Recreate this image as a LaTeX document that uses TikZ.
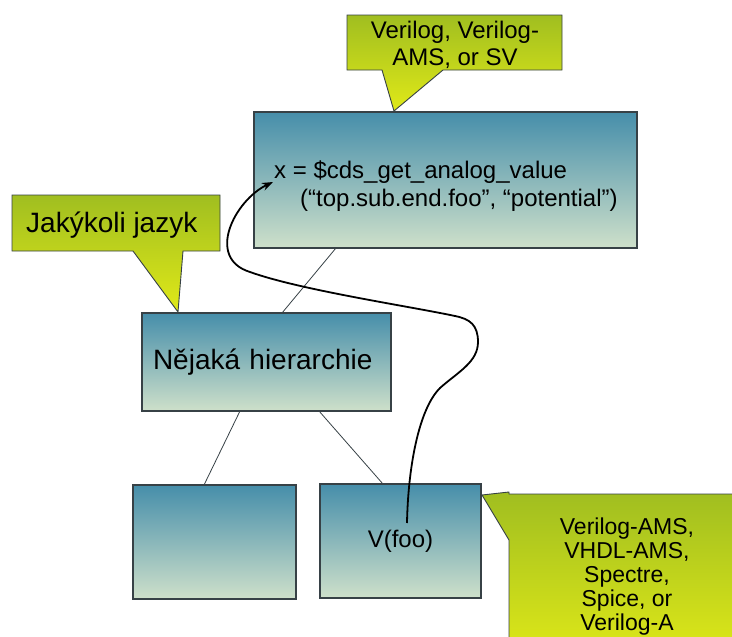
\documentclass[tikz,border=0pt]{standalone}
\usepackage{fontspec}
\setmainfont{Liberation Sans}
\usetikzlibrary{arrows.meta}
\definecolor{boxtop}{RGB}{70,142,170}
\definecolor{boxbot}{RGB}{206,224,202}
\definecolor{caltop}{RGB}{160,190,32}
\definecolor{calbot}{RGB}{224,233,24}
\definecolor{edgecol}{RGB}{55,65,70}
\begin{document}
\begin{tikzpicture}[x=1pt,y=-1pt,
  box/.style={rectangle, draw=edgecol, line width=1.2pt, top color=boxtop, bottom color=boxbot, inner sep=0pt, outer sep=0pt},
  conn/.style={draw=edgecol, line width=0.8pt},
  callout/.style={draw=edgecol, line width=0.9pt, top color=caltop, bottom color=calbot},
  lbl/.style={font=\fontsize{24}{27.5}\selectfont, inner sep=0pt, align=center},
  bigtxt/.style={font=\fontsize{28}{32}\selectfont},
  curve/.style={draw=black, line width=1.8pt, -{Stealth[length=11pt,width=8pt]}}
]
\useasboundingbox (0,0) rectangle (732,637);
\clip (0,0) rectangle (732,637);

% boxes
\node[box, minimum width=383pt, minimum height=136pt] (topbox) at (445.5,180) {};
\node[box, bigtxt, minimum width=249pt, minimum height=98pt, text width=227pt, align=left] (midbox) at (266.5,362) {Nějaká hierarchie};
\node[box, minimum width=163pt, minimum height=114pt] (lbox) at (214.5,542) {};
\node[box, font=\fontsize{24}{27.5}\selectfont, minimum width=161pt, minimum height=114pt] (rbox) at (400.5,541) {V(foo)};

\node[lbl, anchor=west, align=left] (code) at (274,186) {x = \$cds\_get\_analog\_value\\\hspace*{26pt}(“top.sub.end.foo”, “potential”)};

% connectors
\draw[conn] ([xshift=82pt]topbox.south west) -- ([xshift=140pt]midbox.north west);
\draw[conn] ([xshift=98pt]midbox.south west) -- ([xshift=71pt]lbox.north west);
\draw[conn] ([xshift=177pt]midbox.south west) -- ([xshift=63pt]rbox.north west);

% callouts
\path[callout] (347,15) -- (562,15) -- (562,70) -- (443,70) -- (394,111) -- (382,70) -- (347,70) -- cycle;
\node[lbl] (veri) at (455,45) {Verilog, Verilog-\\AMS, or SV};

\path[callout] (12,195) -- (220,195) -- (220,251) -- (183,251) -- (178,312) -- (133,251) -- (12,251) -- cycle;
\node[bigtxt, anchor=west, inner sep=0pt] (anylang) at (26,225) {Jakýkoli jazyk};

\path[callout] (509,494) -- (750,494) -- (750,660) -- (509,660) -- (509,540) -- (482,495) -- (509,492) -- cycle;
\node[lbl, font=\fontsize{23}{24}\selectfont] (vams) at (627,577) {Verilog-AMS,\\VHDL-AMS,\\Spectre,\\Spice, or\\Verilog-A};

% curve from V(foo) to x
\coordinate (cstart) at (407,523);
\coordinate (cend) at (273,182);
\draw[curve] (cstart) .. controls (408,470) and (418,410) .. (440,388)
  .. controls (458,372) and (478,362) .. (478,342)
  .. controls (478,325) and (470,319) .. (455,316)
  .. controls (408,306) and (300,290) .. (250,272)
  .. controls (205,258) and (235,200) .. (cend);
\end{tikzpicture}
\end{document}
